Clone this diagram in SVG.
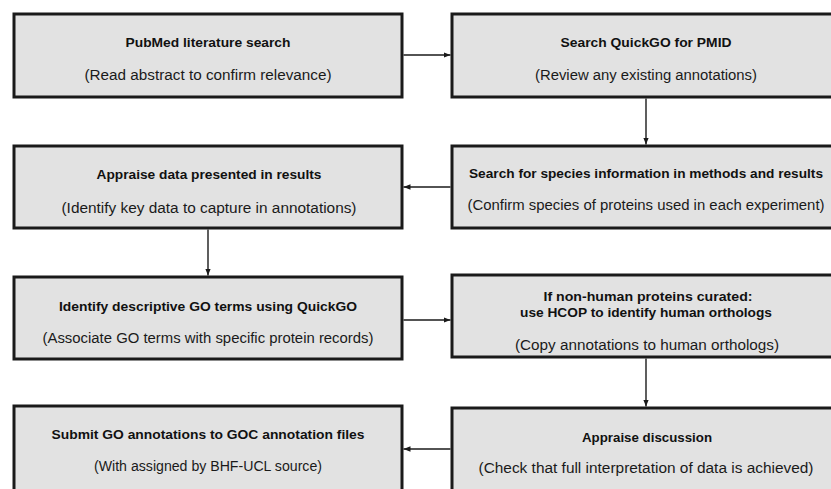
<svg xmlns="http://www.w3.org/2000/svg" width="831" height="489" viewBox="0 0 831 489">
<defs>
<style>
.box{fill:#e2e2e2;stroke:#1a1a1a;stroke-width:3}
.t{font-family:"Liberation Sans",Arial,sans-serif;font-weight:bold;font-size:13.5px;fill:#111;text-anchor:middle}
.s{font-family:"Liberation Sans",Arial,sans-serif;font-size:14px;fill:#1a1a1a;text-anchor:middle}
.c{stroke:#1a1a1a;stroke-width:1.4;fill:none;marker-end:url(#ah)}
</style>
<marker id="ah" markerUnits="userSpaceOnUse" markerWidth="8" markerHeight="8" viewBox="0 0 8 8" refX="7" refY="4" orient="auto">
<path d="M0,1.2 L7,4 L0,6.8 Z" fill="#1a1a1a"/>
</marker>
</defs>
<rect width="831" height="489" fill="#fff"/>
<g id="connectors">
<line class="c" x1="403.5" y1="55" x2="450.5" y2="55"/>
<line class="c" x1="646" y1="98.5" x2="646" y2="144.5"/>
<line class="c" x1="450.5" y1="187" x2="403.5" y2="187"/>
<line class="c" x1="208" y1="229.5" x2="208" y2="275.5"/>
<line class="c" x1="403.5" y1="320" x2="450.5" y2="320"/>
<line class="c" x1="646" y1="358.5" x2="646" y2="406.5"/>
<line class="c" x1="450.5" y1="449" x2="403.5" y2="449"/>
</g>
<g id="n1">
<rect class="box" x="14" y="14" width="388" height="83"/>
<text class="t" x="208" y="47" textLength="165" lengthAdjust="spacingAndGlyphs">PubMed literature search</text>
<text class="s" x="208" y="80" textLength="247" lengthAdjust="spacingAndGlyphs">(Read abstract to confirm relevance)</text>
</g>
<g id="n2">
<rect class="box" x="452" y="14" width="388" height="83"/>
<text class="t" x="646" y="47" textLength="171" lengthAdjust="spacingAndGlyphs">Search QuickGO for PMID</text>
<text class="s" x="646" y="80" textLength="222" lengthAdjust="spacingAndGlyphs">(Review any existing annotations)</text>
</g>
<g id="n3">
<rect class="box" x="14" y="146" width="388" height="82"/>
<text class="t" x="209" y="179" textLength="225" lengthAdjust="spacingAndGlyphs">Appraise data presented in results</text>
<text class="s" x="209" y="213" textLength="295" lengthAdjust="spacingAndGlyphs">(Identify key data to capture in annotations)</text>
</g>
<g id="n4">
<rect class="box" x="452" y="146" width="388" height="82"/>
<text class="t" x="646" y="178" textLength="354" lengthAdjust="spacingAndGlyphs">Search for species information in methods and results</text>
<text class="s" x="646" y="210" textLength="357" lengthAdjust="spacingAndGlyphs">(Confirm species of proteins used in each experiment)</text>
</g>
<g id="n5">
<rect class="box" x="14" y="277" width="388" height="82"/>
<text class="t" x="208" y="311" textLength="298" lengthAdjust="spacingAndGlyphs">Identify descriptive GO terms using QuickGO</text>
<text class="s" x="208" y="343" textLength="331" lengthAdjust="spacingAndGlyphs">(Associate GO terms with specific protein records)</text>
</g>
<g id="n6">
<rect class="box" x="452" y="275" width="388" height="82"/>
<text class="t" x="648" y="301" textLength="209" lengthAdjust="spacingAndGlyphs">If non-human proteins curated:</text>
<text class="t" x="646" y="317" textLength="252" lengthAdjust="spacingAndGlyphs">use HCOP to identify human orthologs</text>
<text class="s" x="647" y="350" textLength="264" lengthAdjust="spacingAndGlyphs">(Copy annotations to human orthologs)</text>
</g>
<g id="n7">
<rect class="box" x="14" y="406" width="388" height="100"/>
<text class="t" x="208" y="439" textLength="313" lengthAdjust="spacingAndGlyphs">Submit GO annotations to GOC annotation files</text>
<text class="s" x="208" y="471" textLength="228" lengthAdjust="spacingAndGlyphs">(With assigned by BHF-UCL source)</text>
</g>
<g id="n8">
<rect class="box" x="452" y="408" width="388" height="100"/>
<text class="t" x="647" y="442" textLength="130" lengthAdjust="spacingAndGlyphs">Appraise discussion</text>
<text class="s" x="646" y="473" textLength="335" lengthAdjust="spacingAndGlyphs">(Check that full interpretation of data is achieved)</text>
</g>
</svg>
